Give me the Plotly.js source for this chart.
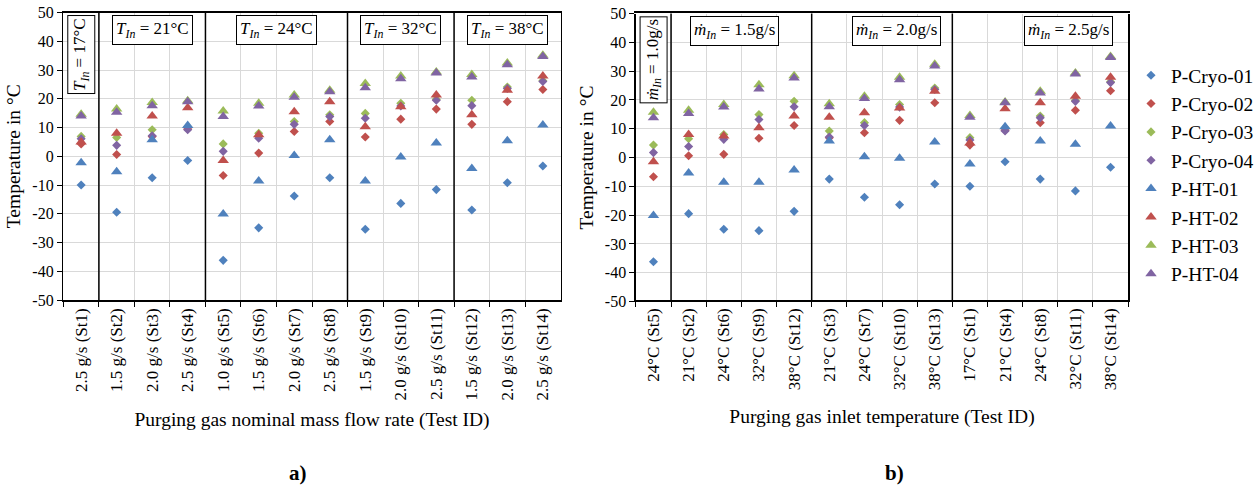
<!DOCTYPE html>
<html><head><meta charset="utf-8">
<script src="https://cdn.plot.ly/plotly-3.0.1.min.js"></script>
<style>body{margin:0;background:#fff}#chart{width:1259px;height:493px}</style>
</head><body><div id="chart"></div>
<script>
// Test IDs (St1..St14)
const testIds = ["St1","St2","St3","St4","St5","St6","St7","St8","St9","St10","St11","St12","St13","St14"];
// Nominal mass flow rate and inlet temperature per test
const massFlow = ["2.5","1.5","2.0","2.5","1.0","1.5","2.0","2.5","1.5","2.0","2.5","1.5","2.0","2.5"];
const inletTemp = ["17","21","21","21","24","24","24","24","32","32","32","38","38","38"];
// Order of tests in chart b)
const orderB = ["St5","St2","St6","St9","St12","St3","St7","St10","St13","St1","St4","St8","St11","St14"];
// Y tick values and labels (plain hyphen minus as in the reference)
const yTickVals = [-50,-40,-30,-20,-10,0,10,20,30,40,50];
const yTickText = ["-50","-40","-30","-20","-10","0","10","20","30","40","50"];

const sensorNames = ["P-Cryo-01","P-Cryo-02","P-Cryo-03","P-Cryo-04","P-HT-01","P-HT-02","P-HT-03","P-HT-04"];
// Temperatures in °C, St1..St14
const pCryo01 = [-10.0,-19.5,-7.5,-1.5,-36.2,-24.9,-13.8,-7.5,-25.4,-16.4,-11.6,-18.7,-9.2,-3.4];
const pCryo02 = [4.3,0.6,6.9,9.5,-6.7,1.1,8.6,12.1,6.7,12.9,16.4,11.1,19.0,23.2];
const pCryo03 = [6.9,6.5,9.2,10.3,4.3,8.0,12.1,14.4,14.9,18.4,19.8,19.5,24.1,26.3];
const pCryo04 = [6.1,3.8,7.1,9.2,1.7,6.3,11.1,13.8,13.2,17.5,19.5,17.6,23.6,26.0];
const pHT01 = [-2.3,-5.4,5.7,10.7,-20.1,-8.6,0.3,5.7,-8.6,-0.3,4.6,-4.3,5.4,10.9];
const pHT02 = [5.0,8.0,14.0,16.9,-1.5,7.5,15.5,19.0,10.3,17.2,21.3,14.4,23.0,27.9];
const pHT03 = [14.6,16.4,18.7,19.3,15.7,18.4,21.3,23.0,25.3,27.9,29.3,28.4,32.4,35.1];
const pHT04 = [14.0,15.3,17.6,19.0,13.8,17.5,20.5,22.4,23.8,27.0,29.0,27.6,31.8,34.7];

const seriesValues = [pCryo01,pCryo02,pCryo03,pCryo04,pHT01,pHT02,pHT03,pHT04];
const colors = ["#4F81BD","#C0504D","#9BBB59","#8064A2","#4F81BD","#C0504D","#9BBB59","#8064A2"];
const symbols = ["diamond","diamond","diamond","diamond","triangle-up","triangle-up","triangle-up","triangle-up"];
const sizes = [7,7,7,7,10,10,10,10];

const labelsA = testIds.map((t,i)=> massFlow[i]+" g/s ("+t+")");
const labelsB = orderB.map(t=> inletTemp[testIds.indexOf(t)]+"°C ("+t+")");

const traces = [];
seriesValues.forEach((vals,k)=>{
  traces.push({type:"scatter",mode:"markers",x:labelsA,y:vals,xaxis:"x",yaxis:"y",
    name:sensorNames[k],showlegend:false,
    marker:{symbol:symbols[k],color:colors[k],size:sizes[k],line:{width:0}}});
});
seriesValues.forEach((vals,k)=>{
  traces.push({type:"scatter",mode:"markers",
    x:labelsB,y:orderB.map(t=>vals[testIds.indexOf(t)]),xaxis:"x2",yaxis:"y2",
    name:sensorNames[k],showlegend:true,
    marker:{symbol:symbols[k],color:colors[k],size:sizes[k],line:{width:0}}});
});

const W=1259,H=493;
const FAM = '"Liberation Serif", "Times New Roman", serif';
const font = {family:FAM,color:"#000"};
function xax(domain,cats,title,standoff){
  return {domain:domain,type:"category",categoryarray:cats,categoryorder:"array",
    range:[-0.5,13.5],tickson:"boundaries",ticks:"outside",ticklen:5,tickcolor:"#000",
    showgrid:true,gridcolor:"#d9d9d9",gridwidth:1,showline:true,linecolor:"#000",linewidth:1.5,mirror:true,
    tickangle:-90,tickfont:{family:FAM,size:17,color:"#000"},zeroline:false,
    title:{text:title,font:{family:FAM,size:19.5,color:"#000"},standoff:standoff}};
}
function yax(domain,anchor){
  return {domain:domain,anchor:anchor,range:[-50,50],tickmode:"array",tickvals:yTickVals,ticktext:yTickText,
    ticks:"outside",ticklen:5,tickcolor:"#000",
    showgrid:true,gridcolor:"#d9d9d9",gridwidth:1,showline:true,linecolor:"#000",linewidth:1.5,mirror:true,
    zeroline:false,tickfont:{family:FAM,size:16,color:"#000"},
    title:{text:"Temperature in °C",font:{family:FAM,size:19.5,color:"#000"},standoff:6}};
}
const sepA=[0.5,3.5,7.5,10.5], sepB=[0.5,4.5,8.5];
const shapes=[];
sepA.forEach(s=>shapes.push({type:"line",xref:"x",yref:"y domain",x0:s,x1:s,y0:0,y1:1,line:{color:"#000",width:1.5}}));
sepB.forEach(s=>shapes.push({type:"line",xref:"x2",yref:"y2 domain",x0:s,x1:s,y0:0,y1:1,line:{color:"#000",width:1.5}}));

const boxFont={family:FAM,size:17,color:"#000"};
function box(xref,x,text,vertical){
  return {xref:xref,yref:xref==="x"?"y domain":"y2 domain",x:x,y:0.99,yanchor:"top",
    text:text,showarrow:false,font:boxFont,bordercolor:"#000",borderwidth:1,borderpad:vertical?2:3,bgcolor:"#fff",
    textangle:vertical?-90:0};
}
const tIn="<i>T</i><sub><i>In</i></sub>", mIn="<i>ṁ</i><sub><i>In</i></sub>";
const annotations=[
  box("x",0,tIn+" = 17°C",true),
  box("x",2,tIn+" = 21°C"),
  box("x",5.5,tIn+" = 24°C"),
  box("x",9,tIn+" = 32°C"),
  box("x",12,tIn+" = 38°C"),
  box("x2",0,mIn+" = 1.0g/s",true),
  box("x2",2.3,mIn+" = 1.5g/s"),
  box("x2",6.9,mIn+" = 2.0g/s"),
  box("x2",11.8,mIn+" = 2.5g/s"),
  {xref:"paper",yref:"paper",x:290/W,y:1-473/H,yanchor:"middle",text:"<b>a)</b>",showarrow:false,font:{family:FAM,size:21,color:"#000"}},
  {xref:"paper",yref:"paper",x:915/W,y:1-473/H,yanchor:"middle",text:"<b>b)</b>",showarrow:false,font:{family:FAM,size:21,color:"#000"}}
];

const layout={width:W,height:H,margin:{l:0,r:0,t:0,b:0},paper_bgcolor:"#fff",plot_bgcolor:"#fff",font:font,
  xaxis:xax([64/W,566/W],labelsA,"Purging gas nominal mass flow rate (Test ID)",13),
  yaxis:yax([1-300/H,1-12.5/H],"x"),
  xaxis2:xax([642/W,1139/W],labelsB,"Purging gas inlet temperature (Test ID)",20),
  yaxis2:yax([1-301.5/H,1-13.5/H],"x2"),
  showlegend:true,
  legend:{x:1142/W,y:1-56/H,xanchor:"left",yanchor:"top",font:{family:FAM,size:19.5,color:"#000"},
    bgcolor:"rgba(0,0,0,0)",tracegroupgap:0,itemwidth:30},
  shapes:shapes,annotations:annotations};
Plotly.newPlot("chart",traces,layout,{displayModeBar:false,staticPlot:true});
</script></body></html>
